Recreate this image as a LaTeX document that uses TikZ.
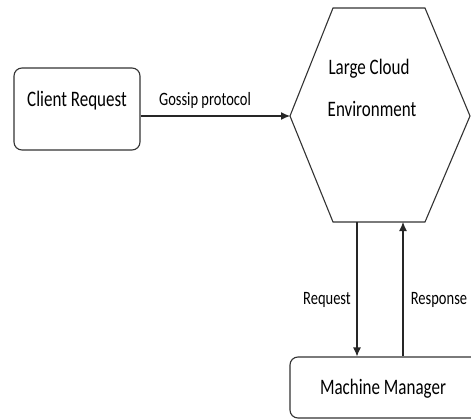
\documentclass[tikz,border=0pt]{standalone}
\usepackage{fontspec}
\setmainfont{Carlito}
\usetikzlibrary{arrows.meta,positioning}

\begin{document}
\begin{tikzpicture}[x=1pt, y=-1pt,
    box/.style={rectangle, draw=black!80, line width=1.1pt, rounded corners=8pt, inner sep=0pt},
    txt/.style={font=\fontsize{17}{19}\selectfont, inner sep=0pt, yscale=1.3},
    lbl/.style={font=\fontsize{14.5}{16}\selectfont, inner sep=0pt, yscale=1.3},
    arrow/.style={-{Latex[length=9pt,width=8pt]}, line width=1.1pt, draw=black!85}
]
    \useasboundingbox (0,0) rectangle (471,420);

    % Nodes
    \node[box, minimum width=126pt, minimum height=82pt] (client) at (77,109) {};
    \node[txt] (clienttxt) at (77,101) {Client Request};
    \draw[line width=1.1pt, black!80] (290,116) coordinate (hexW) -- (333,8) -- (425,8)
        -- (470,116) -- (425,222) -- (333,222) -- cycle;
    \node[txt] (cloud1) at (369,69) {Large Cloud};
    \node[txt] (cloud2) at (372,109) {Environment};
    \coordinate (reqtop) at (357,222);
    \coordinate (restop) at (403,222);
    \node[box, minimum width=190pt, minimum height=61pt] (mgr) at (385,387.5) {};
    \node[txt] (mgrtxt) at (383,389) {Machine Manager};

    % Arrows
    \draw[arrow] (client.east |- hexW) -- (hexW);
    \draw[arrow] (reqtop) -- (reqtop |- mgr.north);
    \draw[arrow] (restop |- mgr.north) -- (restop);

    % Labels
    \node[lbl] (gossip) at (205,100) {Gossip protocol};
    \node[lbl] (req) at (327,300) {Request};
    \node[lbl] (resp) at (439,300) {Response};

\end{tikzpicture}
\end{document}
